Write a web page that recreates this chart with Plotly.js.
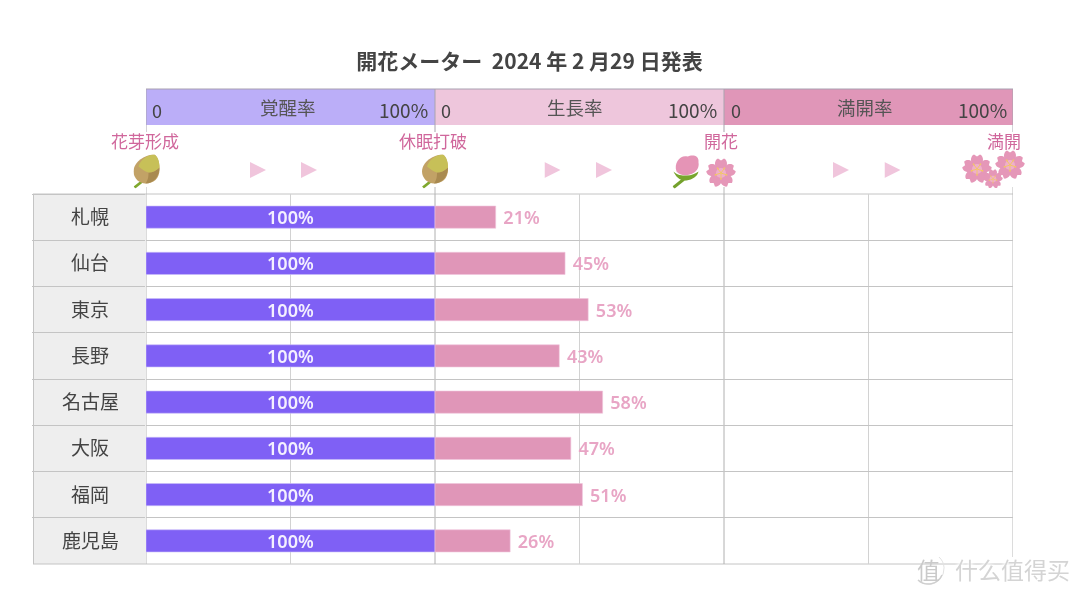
<!DOCTYPE html>
<html><head><meta charset="utf-8">
<script src="https://cdn.plot.ly/plotly-3.0.1.min.js"></script>
<style>html,body{margin:0;padding:0;background:#fff}#c{width:1080px;height:595px;filter:blur(.45px)}</style></head>
<body><div id="c"></div>
<script>
const cities = ['札幌','仙台','東京','長野','名古屋','大阪','福岡','鹿児島'];
const awakening = [100,100,100,100,100,100,100,100];
const growth = [21,45,53,43,58,47,51,26];
const stageNames = ['覚醒率','生長率','満開率'];
const stageStarts = [0,100,200];
const stageColors = ['#bbaef8','#eec6dc','#e096b8'];
const milestones = ['花芽形成','休眠打破','開花','満開'];
const titleText = '開花メーター  2024 年 2 月29 日発表';

const L=146,R=1013,T=194,B=564;
const px=x=>(x-L)/(R-L), py=y=>(B-y)/(B-T);
const FONT='"Noto Sans CJK JP","Noto Sans",sans-serif';
const uri=(w,h,s)=>'data:image/svg+xml;utf8,'+encodeURIComponent(`<svg xmlns="http://www.w3.org/2000/svg" width="${w*4}" height="${h*4}" viewBox="0 0 ${w} ${h}">${s}</svg>`);
const img=(src,cx,cy,w,h)=>({source:src,xref:'paper',yref:'paper',x:px(cx),y:py(cy),sizex:w/(R-L),sizey:h/(B-T),xanchor:'center',yanchor:'middle',sizing:'stretch',layer:'above'});

const budSvg=uri(27,34,`<path d="M1 33L11 25" stroke="#7fa82e" stroke-width="2.8"/>
<path d="M21 0C12 0 0 7 0 17C0 24 6 29 12 29C20 29 26 24 26 15C26 9 25 3 21 0Z" fill="#c2a266"/>
<path d="M26 13C26 22 20 29 12 29C15 25 15 21 15 18C19 18 23 16 26 13Z" fill="#a98a50"/>
<path d="M21 0C14 0 7 5 5 12C8 14 11 17 15 18C19 18 23 16 26 13C26 8 25 3 21 0Z" fill="#c7c058"/>`);
const pinkBudSvg=uri(28,34,`<path d="M1 33L11 25" stroke="#74a12c" stroke-width="3"/>
<path d="M4 17C1 8 8 0 15 2C19 0 27 0 26 8C27 13 24 17 20 19C14 22 7 21 4 17Z" fill="#e594b6"/>
<path d="M1 17C5 21 9 21 14 21C19 21 23 19 26 17C25 22 20 25 14 26C8 27 3 22 1 17Z" fill="#78a52e"/>`);
let petals='',stamens='';
for(let k=0;k<5;k++){const a=72*k;
 petals+=`<path transform="rotate(${a})" d="M0 -1C-8 -5 -7 -13 -3 -14.5L0 -12.5L3 -14.5C7 -13 8 -5 0 -1Z" fill="#e597b8"/>`;
 stamens+=`<g transform="rotate(${a+36})"><line y2="-5.5" stroke="#f2c766" stroke-width=".9"/><circle cy="-5.8" r=".9" fill="#f2c766"/></g>`;}
const flowerSvg=uri(30,30,`<g transform="translate(15 15)">${petals}<circle r="5" fill="#efb0ca"/>${stamens}</g>`);
const triSvg=uri(16,16,`<path d="M0 0L16 8L0 16Z" fill="#f0c5dc"/>`);
const ringSvg=uri(34,34,`<path d="M27 5A15 15 0 1 1 6 28" fill="none" stroke="#e2e2e2" stroke-width="1"/><path d="M6 28A15 15 0 0 0 30 23" fill="none" stroke="#cfcfcf" stroke-width="1.5"/>`);

const images=[
 img(budSvg,147,171.5,27,34), img(budSvg,435.5,171.5,27,34),
 img(pinkBudSvg,686.5,171.5,28,34), img(flowerSvg,721,173,30,30),
 img(flowerSvg,977,169,30,30), img(flowerSvg,993,179,20,20), img(flowerSvg,1010,165,30,30),
 ...[258,309,552.5,604,841,892.5].map(x=>img(triSvg,x,170,16,16)),
 img(ringSvg,929,569,34,34)
];

const GRID='#c4c4c4';
const shapes=[
 {type:'rect',xref:'paper',yref:'paper',x0:px(33),x1:0,y0:0,y1:1,fillcolor:'#eeeeee',line:{width:0},layer:'below'},
 {type:'line',xref:'paper',yref:'paper',x0:px(33.5),x1:px(33.5),y0:0,y1:1,line:{color:GRID,width:1},layer:'below'},
 {type:'line',xref:'paper',yref:'paper',x0:px(33),x1:1,y0:0,y1:0,line:{color:GRID,width:1},layer:'below'},
 {type:'line',xref:'paper',yref:'paper',x0:px(33),x1:1,y0:1,y1:1,line:{color:GRID,width:1},layer:'below'},
 {type:'line',xref:'x',yref:'paper',x0:0,x1:0,y0:0,y1:1,line:{color:'#b8b8b8',width:1},layer:'below'},
 {type:'line',xref:'x',yref:'paper',x0:100,x1:100,y0:0,y1:1,line:{color:'#b0b0b0',width:1},layer:'below'},
 {type:'line',xref:'x',yref:'paper',x0:200,x1:200,y0:0,y1:1,line:{color:'#b0b0b0',width:1},layer:'below'},
 {type:'line',xref:'x',yref:'paper',x0:300,x1:300,y0:py(557),y1:1,line:{color:'#b8b8b8',width:1},layer:'below'},
];
stageStarts.forEach((s,i)=>shapes.push({type:'rect',xref:'x',yref:'paper',x0:s,x1:s+100,y0:py(125),y1:py(89),fillcolor:stageColors[i],line:{width:0},layer:'above'}));
shapes.push({type:'line',xref:'x',yref:'paper',x0:0,x1:300,y0:py(89),y1:py(89),line:{color:'#a8a0b0',width:1},layer:'above'});
[0,100,200,300].forEach(v=>{
 shapes.push({type:'line',xref:'x',yref:'paper',x0:v,x1:v,y0:py(132),y1:py(89),line:{color:'#a9a4ae',width:1},layer:'above'});
 shapes.push({type:'line',xref:'x',yref:'paper',x0:v,x1:v,y0:py(194),y1:py(187),line:{color:'#b8b8b8',width:1},layer:'above'});
});

const ann=(text,x,y,size,color,anchor,extra)=>Object.assign({text,xref:'paper',yref:'paper',x:px(x),y:py(y),xanchor:anchor||'center',yanchor:'middle',showarrow:false,font:{family:FONT,size,color}},extra||{});
const annotations=[];
cities.forEach(c=>annotations.push({text:c,xref:'paper',yref:'y',x:px(90),y:c,yshift:1.5,xanchor:'center',yanchor:'middle',showarrow:false,font:{family:FONT,size:19,color:'#444'}}));
const stageCentres=[288,574.5,865], stageZero=[150,439,729], stageEnd=[430,719,1009];
stageNames.forEach((n,i)=>{
 annotations.push(ann(n,stageCentres[i],107,18.5,'#555'));
 annotations.push(ann('0',stageZero[i],109.5,18,'#444','left'));
 annotations.push(ann('100%',stageEnd[i],109.5,19,'#444','right'));
});
[[milestones[0],144.5],[milestones[1],432.5],[milestones[2],721],[milestones[3],1004]].forEach(([t,x])=>annotations.push(ann(t,x,141,17,'#d0679c')));
annotations.push(ann('什么值得买',1012,569,23,'#d4d4d4','center',{font:{family:FONT,size:23,color:'#d4d4d4',shadow:'0 0 3px #fff, 0 0 4px #fff, 0 0 4px #fff'}}));
annotations.push(ann('值',928,569,23,'#cacaca'));

const data=[
 {type:'bar',orientation:'h',y:cities,x:awakening,marker:{color:'#7f60f5',line:{color:'#c9bdf9',width:0.6}},text:awakening.map(v=>v+'%'),textposition:'inside',insidetextanchor:'middle',textangle:0,constraintext:'none',textfont:{family:'"Noto Sans",sans-serif',size:18,color:'#f4f0ff',weight:600},hoverinfo:'skip'},
 {type:'bar',orientation:'h',y:cities,x:growth,base:awakening,marker:{color:'#e096b8',line:{color:'#f0c5dc',width:0.6}},text:growth.map(v=>'\u00a0'+v+'%'),textposition:'outside',textangle:0,constraintext:'none',cliponaxis:false,textfont:{family:'"Noto Sans",sans-serif',size:18,color:'#e8a5c5',weight:600},hoverinfo:'skip'}
];
const layout={
 width:1080,height:595,paper_bgcolor:'#fff',plot_bgcolor:'#fff',showlegend:false,barmode:'overlay',bargap:0.52,
 margin:{l:L,r:1080-R,t:T,b:595-B,pad:0},
 title:{text:titleText,font:{family:FONT,size:21,color:'#444',weight:700},xref:'container',yref:'container',x:529.5/1080,y:1-61.5/595,xanchor:'center',yanchor:'middle'},
 xaxis:{range:[0,300],tickvals:[50,150,250],showticklabels:false,ticks:'',showgrid:true,gridcolor:'#d2d2d2',gridwidth:1,zeroline:false,showline:false,fixedrange:true},
 yaxis:{type:'category',categoryorder:'array',categoryarray:cities,autorange:false,range:[7.5,-0.5],tickson:'boundaries',ticks:'outside',ticklen:113,tickcolor:GRID,tickwidth:1,showticklabels:false,showgrid:true,gridcolor:GRID,gridwidth:1,zeroline:false,showline:false,fixedrange:true},
 shapes,annotations,images
};
Plotly.newPlot('c',data,layout,{displayModeBar:false,staticPlot:true});
</script></body></html>
